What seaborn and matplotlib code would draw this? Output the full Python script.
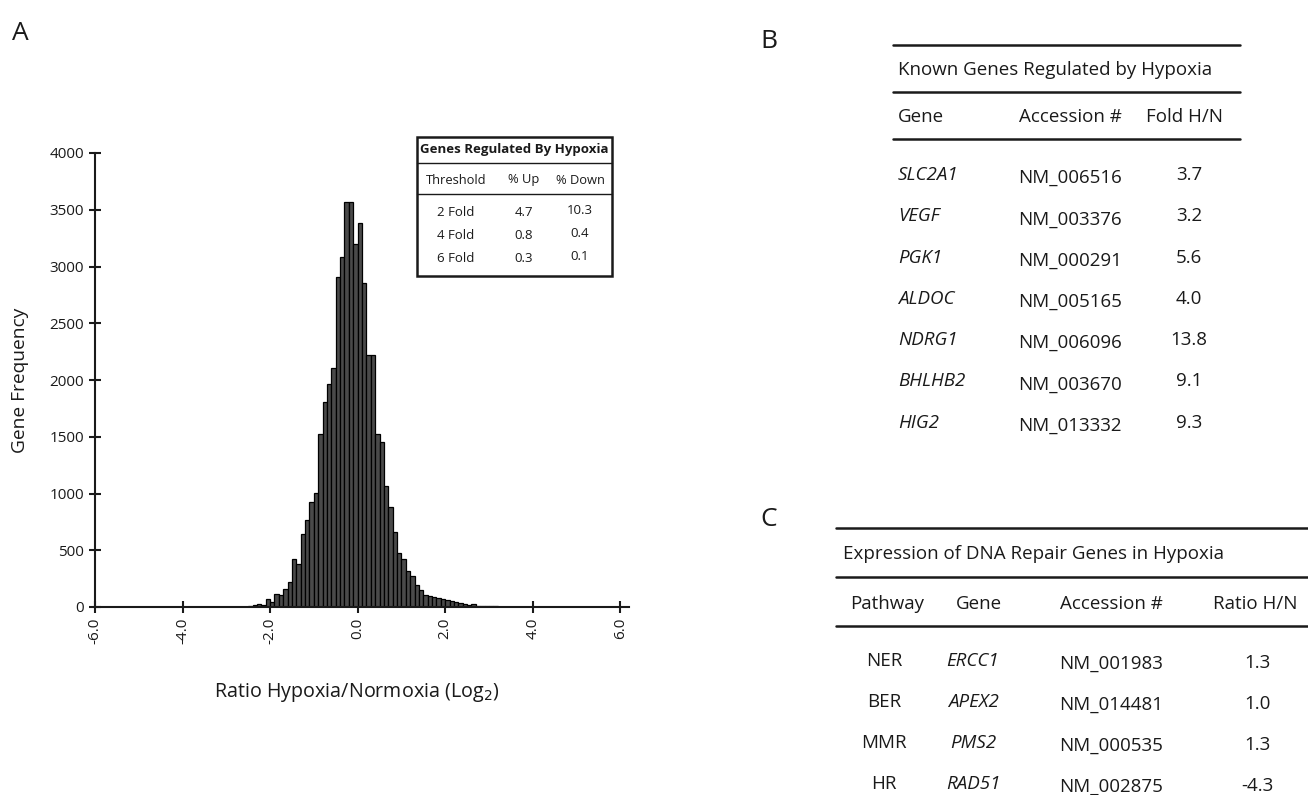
import numpy as np
import matplotlib
matplotlib.use("Agg")
import matplotlib.pyplot as plt
import seaborn as sns
from matplotlib.lines import Line2D
from matplotlib.patches import Rectangle

# ---------------- data ----------------
bin_left = [-2.5, -2.4, -2.3, -2.2, -2.1, -2.0, -1.9, -1.8, -1.7, -1.6,
            -1.5, -1.4, -1.3, -1.2, -1.1, -1.0, -0.9, -0.8, -0.7, -0.6,
            -0.5, -0.4, -0.3, -0.2, -0.1, 0.0, 0.1, 0.2, 0.3, 0.4,
            0.5, 0.6, 0.7, 0.8, 0.9, 1.0, 1.1, 1.2, 1.3, 1.4,
            1.5, 1.6, 1.7, 1.8, 1.9, 2.0, 2.1, 2.2, 2.3, 2.4,
            2.5, 2.6, 2.7, 2.8, 2.9, 3.0, 3.1]
gene_freq = [12, 20, 28, 22, 70, 41, 117, 105, 158, 217,
             422, 375, 639, 768, 926, 1005, 1522, 1807, 1969, 2107,
             2909, 3080, 3570, 3570, 3194, 3379, 2856, 2219, 2219, 1522,
             1455, 1064, 882, 661, 476, 426, 317, 270, 191, 153,
             103, 95, 88, 79, 70, 64, 53, 41, 32, 23,
             15, 23, 12, 10, 8, 6, 5]
bin_width = 0.1
x_ticks = [-6.0, -4.0, -2.0, 0.0, 2.0, 4.0, 6.0]
y_ticks = [0, 500, 1000, 1500, 2000, 2500, 3000, 3500, 4000]

inset_title = "Genes Regulated By Hypoxia"
inset_header = ["Threshold", "% Up", "% Down"]
inset_threshold = ["2 Fold", "4 Fold", "6 Fold"]
inset_up = ["4.7", "0.8", "0.3"]
inset_down = ["10.3", "0.4", "0.1"]

b_title = "Known Genes Regulated by Hypoxia"
b_header = ["Gene", "Accession #", "Fold H/N"]
b_genes = ["SLC2A1", "VEGF", "PGK1", "ALDOC", "NDRG1", "BHLHB2", "HIG2"]
b_access = ["NM_006516", "NM_003376", "NM_000291", "NM_005165",
            "NM_006096", "NM_003670", "NM_013332"]
b_fold = ["3.7", "3.2", "5.6", "4.0", "13.8", "9.1", "9.3"]

c_title = "Expression of DNA Repair Genes in Hypoxia"
c_header = ["Pathway", "Gene", "Accession #", "Ratio H/N"]
c_pathway = ["NER", "BER", "MMR", "HR"]
c_genes = ["ERCC1", "APEX2", "PMS2", "RAD51"]
c_access = ["NM_001983", "NM_014481", "NM_000535", "NM_002875"]
c_ratio = ["1.3", "1.0", "1.3", "-4.3"]

# ---------------- style ----------------
sns.set_theme(style="ticks")
FONT = ["Open Sans", "DejaVu Sans"]
plt.rcParams["font.family"] = FONT

W, H = 1308, 795
fig = plt.figure(figsize=(W / 100, H / 100), dpi=100)


def fx(x):
    return x / W


def fy(y):
    return 1 - y / H


def txt(x, y, s, size=13.5, ha="left", va="center", **kw):
    fig.text(fx(x), fy(y), s, fontsize=size, ha=ha, va=va, color="#1a1a1a", **kw)


def hline(x0, x1, y, lw=1.8):
    fig.add_artist(Line2D([fx(x0), fx(x1)], [fy(y), fy(y)], color="#1a1a1a",
                          lw=lw, transform=fig.transFigure))


# ---------------- panel A: histogram ----------------
x0_px, x1_px, ytop_px, ybot_px = 95, 629, 153, 607
ax = fig.add_axes([fx(x0_px), fy(ybot_px), fx(x1_px) - fx(x0_px),
                   fy(ytop_px) - fy(ybot_px)])
centers = [b + bin_width / 2 for b in bin_left]
edges = list(bin_left) + [bin_left[-1] + bin_width]
sns.histplot(x=centers, weights=gene_freq, bins=edges, ax=ax,
             color="#4a4a4a", edgecolor="black", linewidth=0.9, alpha=1)
ax.set_xlim(-6.0, 6.2)
ax.set_ylim(0, 4000)
ax.set_xticks(x_ticks)
ax.set_xticklabels([f"{v:.1f}" for v in x_ticks], rotation=90, fontsize=11)
ax.set_yticks(y_ticks)
ax.set_yticklabels([str(v) for v in y_ticks], fontsize=11)
ax.tick_params(direction="inout", length=8, width=1.5, color="#1a1a1a",
               labelcolor="#1a1a1a", pad=4)
ax.set_xlabel("")
ax.set_ylabel("")
sns.despine(ax=ax)
for s in ("left", "bottom"):
    ax.spines[s].set_linewidth(1.5)
    ax.spines[s].set_color("#1a1a1a")
ax.set_facecolor("white")

txt(20, 380, "Gene Frequency", size=13.8, ha="center", rotation=90)
txt(357, 693, "Ratio Hypoxia/Normoxia (Log$_2$)", size=14.2, ha="center")

# inset table
fig.add_artist(Rectangle((fx(417), fy(276)), fx(612) - fx(417), fy(137) - fy(276),
                         fill=False, lw=1.8, ec="#1a1a1a", transform=fig.transFigure))
txt(514.5, 150, inset_title, size=9.5, ha="center", weight="bold")
hline(417, 612, 163, lw=1.0)
hline(417, 612, 194, lw=1.0)
col_x = [456, 524, 580]
for cx, h in zip(col_x, inset_header):
    txt(cx, 180, h, size=9.3, ha="center")
for i in range(3):
    yy = 212 + i * 23.5
    txt(col_x[0], yy, inset_threshold[i], size=9.5, ha="center")
    txt(col_x[1], yy, inset_up[i], size=9.5, ha="center")
    txt(col_x[2], yy - 2, inset_down[i], size=9.5, ha="center")

# panel letters
txt(20, 34, "A", size=19, ha="center")
txt(769, 42, "B", size=19, ha="center")
txt(769, 520, "C", size=19, ha="center")

# ---------------- panel B table ----------------
hline(893, 1240, 45)
txt(898, 70, b_title)
hline(893, 1240, 92)
txt(898, 117, b_header[0])
txt(1070, 117, b_header[1], ha="center")
txt(1184, 117, b_header[2], ha="center")
hline(893, 1240, 139)
for i in range(len(b_genes)):
    yy = 175 + i * 41.3
    txt(898, yy, b_genes[i], style="italic")
    txt(1070, yy + 3, b_access[i], ha="center")
    txt(1189, yy, b_fold[i], ha="center")

# ---------------- panel C table ----------------
hline(836, 1308, 528)
txt(843, 554, c_title)
hline(836, 1308, 577)
cc = [887, 979, 1111, 1255]
for cx, h in zip(cc, c_header):
    txt(cx, 604, h, ha="center")
hline(836, 1308, 626)
for i in range(len(c_pathway)):
    yy = 661 + i * 41
    txt(cc[0] - 3, yy, c_pathway[i], ha="center")
    txt(cc[1] - 6, yy, c_genes[i], ha="center", style="italic")
    txt(cc[2], yy + 3, c_access[i], ha="center")
    txt(cc[3] + 2, yy + 2, c_ratio[i], ha="center")

fig.savefig("out.png", dpi=100, facecolor="white")
